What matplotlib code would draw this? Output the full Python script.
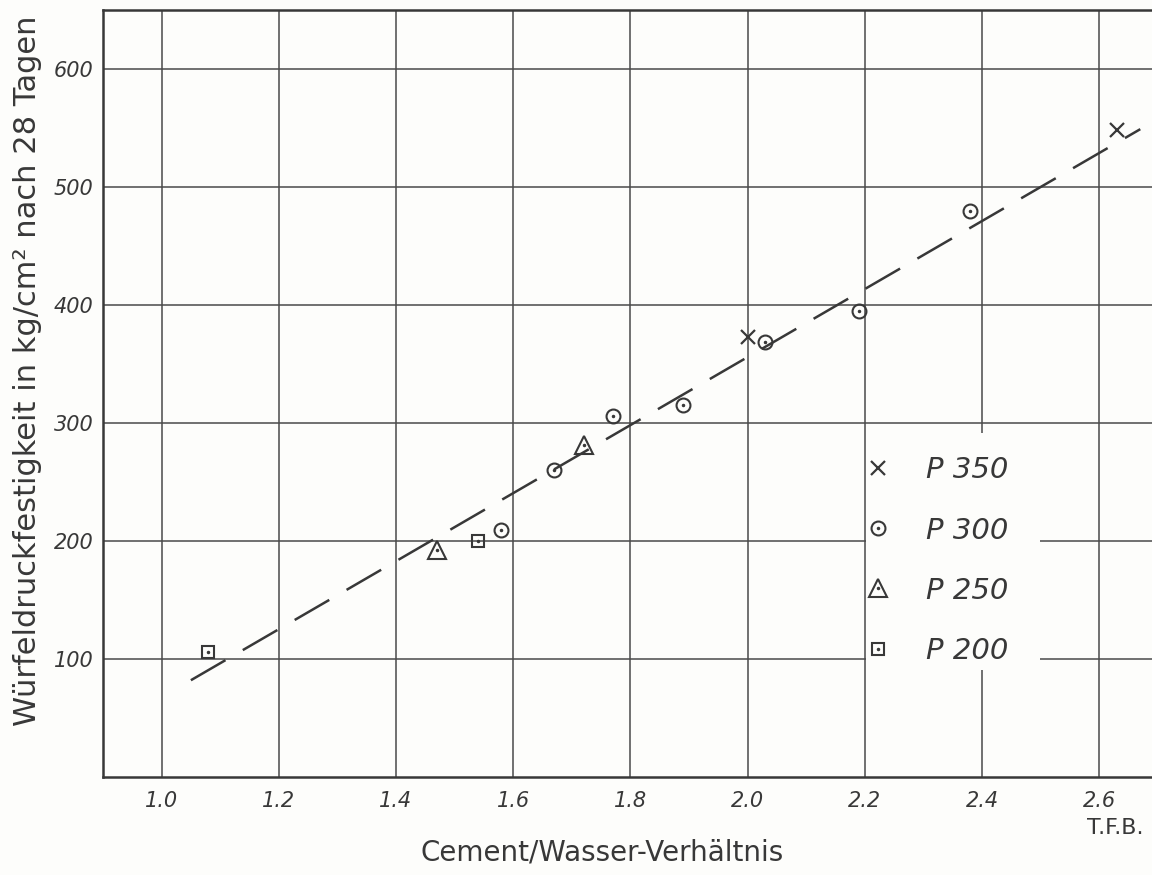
import matplotlib.pyplot as plt
from matplotlib.lines import Line2D
from matplotlib.patches import Rectangle

p350_x = [2.00, 2.63]
p350_y = [373, 548]
p300_x = [1.58, 1.67, 1.77, 1.89, 2.03, 2.19, 2.38]
p300_y = [209, 260, 306, 315, 369, 395, 480]
p250_x = [1.47, 1.72]
p250_y = [192, 281]
p200_x = [1.08, 1.54]
p200_y = [106, 200]

# gestrichelte Ausgleichsgerade
fit_x = [1.05, 2.67]
fit_y = [82, 549]

xticks = [1.0, 1.2, 1.4, 1.6, 1.8, 2.0, 2.2, 2.4, 2.6]
xticklabels = ['1.0', '1.2', '1.4', '1.6', '1.8', '2.0', '2.2', '2.4', '2.6']
yticks = [100, 200, 300, 400, 500, 600]
labels = ['P 350', 'P 300', 'P 250', 'P 200']

ink = '#383838'
paper = '#fdfdfb'

fig = plt.figure(figsize=(11.52, 8.75), dpi=100, facecolor=paper)
ax = fig.add_axes([0.0894, 0.112, 0.9106, 0.8766])
ax.set_facecolor(paper)
ax.set_xlim(0.9, 2.69)
ax.set_ylim(0, 650)

ax.set_xticks(xticks)
ax.set_xticklabels(xticklabels)
ax.set_yticks(yticks)
ax.tick_params(axis='x', length=0, labelsize=15, colors=ink, pad=10)
ax.tick_params(axis='y', length=0, labelsize=15, colors=ink, pad=7)
for t in ax.get_xticklabels() + ax.get_yticklabels():
    t.set_fontstyle('italic')
ax.grid(True, color='#4a4a4a', lw=1.1, zorder=0)
ax.set_axisbelow(True)
for side in ['left', 'bottom', 'top']:
    ax.spines[side].set_color(ink)
    ax.spines[side].set_linewidth(1.8)
ax.spines['right'].set_visible(False)

ax.plot(fit_x, fit_y, color=ink, lw=1.8, dashes=(16, 8), zorder=2)

ms = 10
x_kw = dict(marker='x', color=ink, ms=10, mew=1.6, ls='none')
o_kw = dict(marker='o', mfc='none', mec=ink, ms=ms, mew=1.5, ls='none')
t_kw = dict(marker='^', mfc='none', mec=ink, ms=ms + 3, mew=1.5, ls='none')
s_kw = dict(marker='s', mfc='none', mec=ink, ms=ms - 1, mew=1.5, ls='none')
dot_kw = dict(marker='.', color=ink, ms=3, ls='none')

ax.plot(p350_x, p350_y, zorder=4, **x_kw)
ax.plot(p300_x, p300_y, zorder=4, **o_kw)
ax.plot(p300_x, p300_y, zorder=5, **dot_kw)
ax.plot(p250_x, p250_y, zorder=4, **t_kw)
ax.plot(p250_x, p250_y, zorder=5, **dot_kw)
ax.plot(p200_x, p200_y, zorder=4, **s_kw)
ax.plot(p200_x, p200_y, zorder=5, **dot_kw)

# weisses Feld hinter der Legende (Gitter dort ausgespart)
ax.add_patch(Rectangle((0.7275, 0.1397), 0.1655, 0.3093, transform=ax.transAxes,
                       facecolor=paper, edgecolor='none', zorder=1))

handles = [
    Line2D([], [], **x_kw),
    (Line2D([], [], **o_kw), Line2D([], [], **dot_kw)),
    (Line2D([], [], **t_kw), Line2D([], [], **dot_kw)),
    (Line2D([], [], **s_kw), Line2D([], [], **dot_kw)),
]
leg = ax.legend(handles, labels, loc='upper left', bbox_to_anchor=(0.7264, 0.4255),
                frameon=False, handlelength=0.5, handletextpad=1.4,
                labelspacing=1.1, borderpad=0.2, borderaxespad=0,
                prop={'size': 21, 'style': 'italic'})
leg.set_zorder(6)
for t in leg.get_texts():
    t.set_color(ink)

ax.set_xlabel('Cement/Wasser-Verhältnis', fontsize=20, color=ink)
ax.xaxis.set_label_coords(0.476, -0.08)
ax.set_ylabel('Würfeldruckfestigkeit in kg/cm² nach 28 Tagen', fontsize=22, color=ink)
ax.yaxis.set_label_coords(-0.058, 0.529)
fig.text(0.968, 0.047, 'T.F.B.', fontsize=16, color=ink, ha='center')

plt.savefig('out.png', dpi=100, facecolor=paper)
